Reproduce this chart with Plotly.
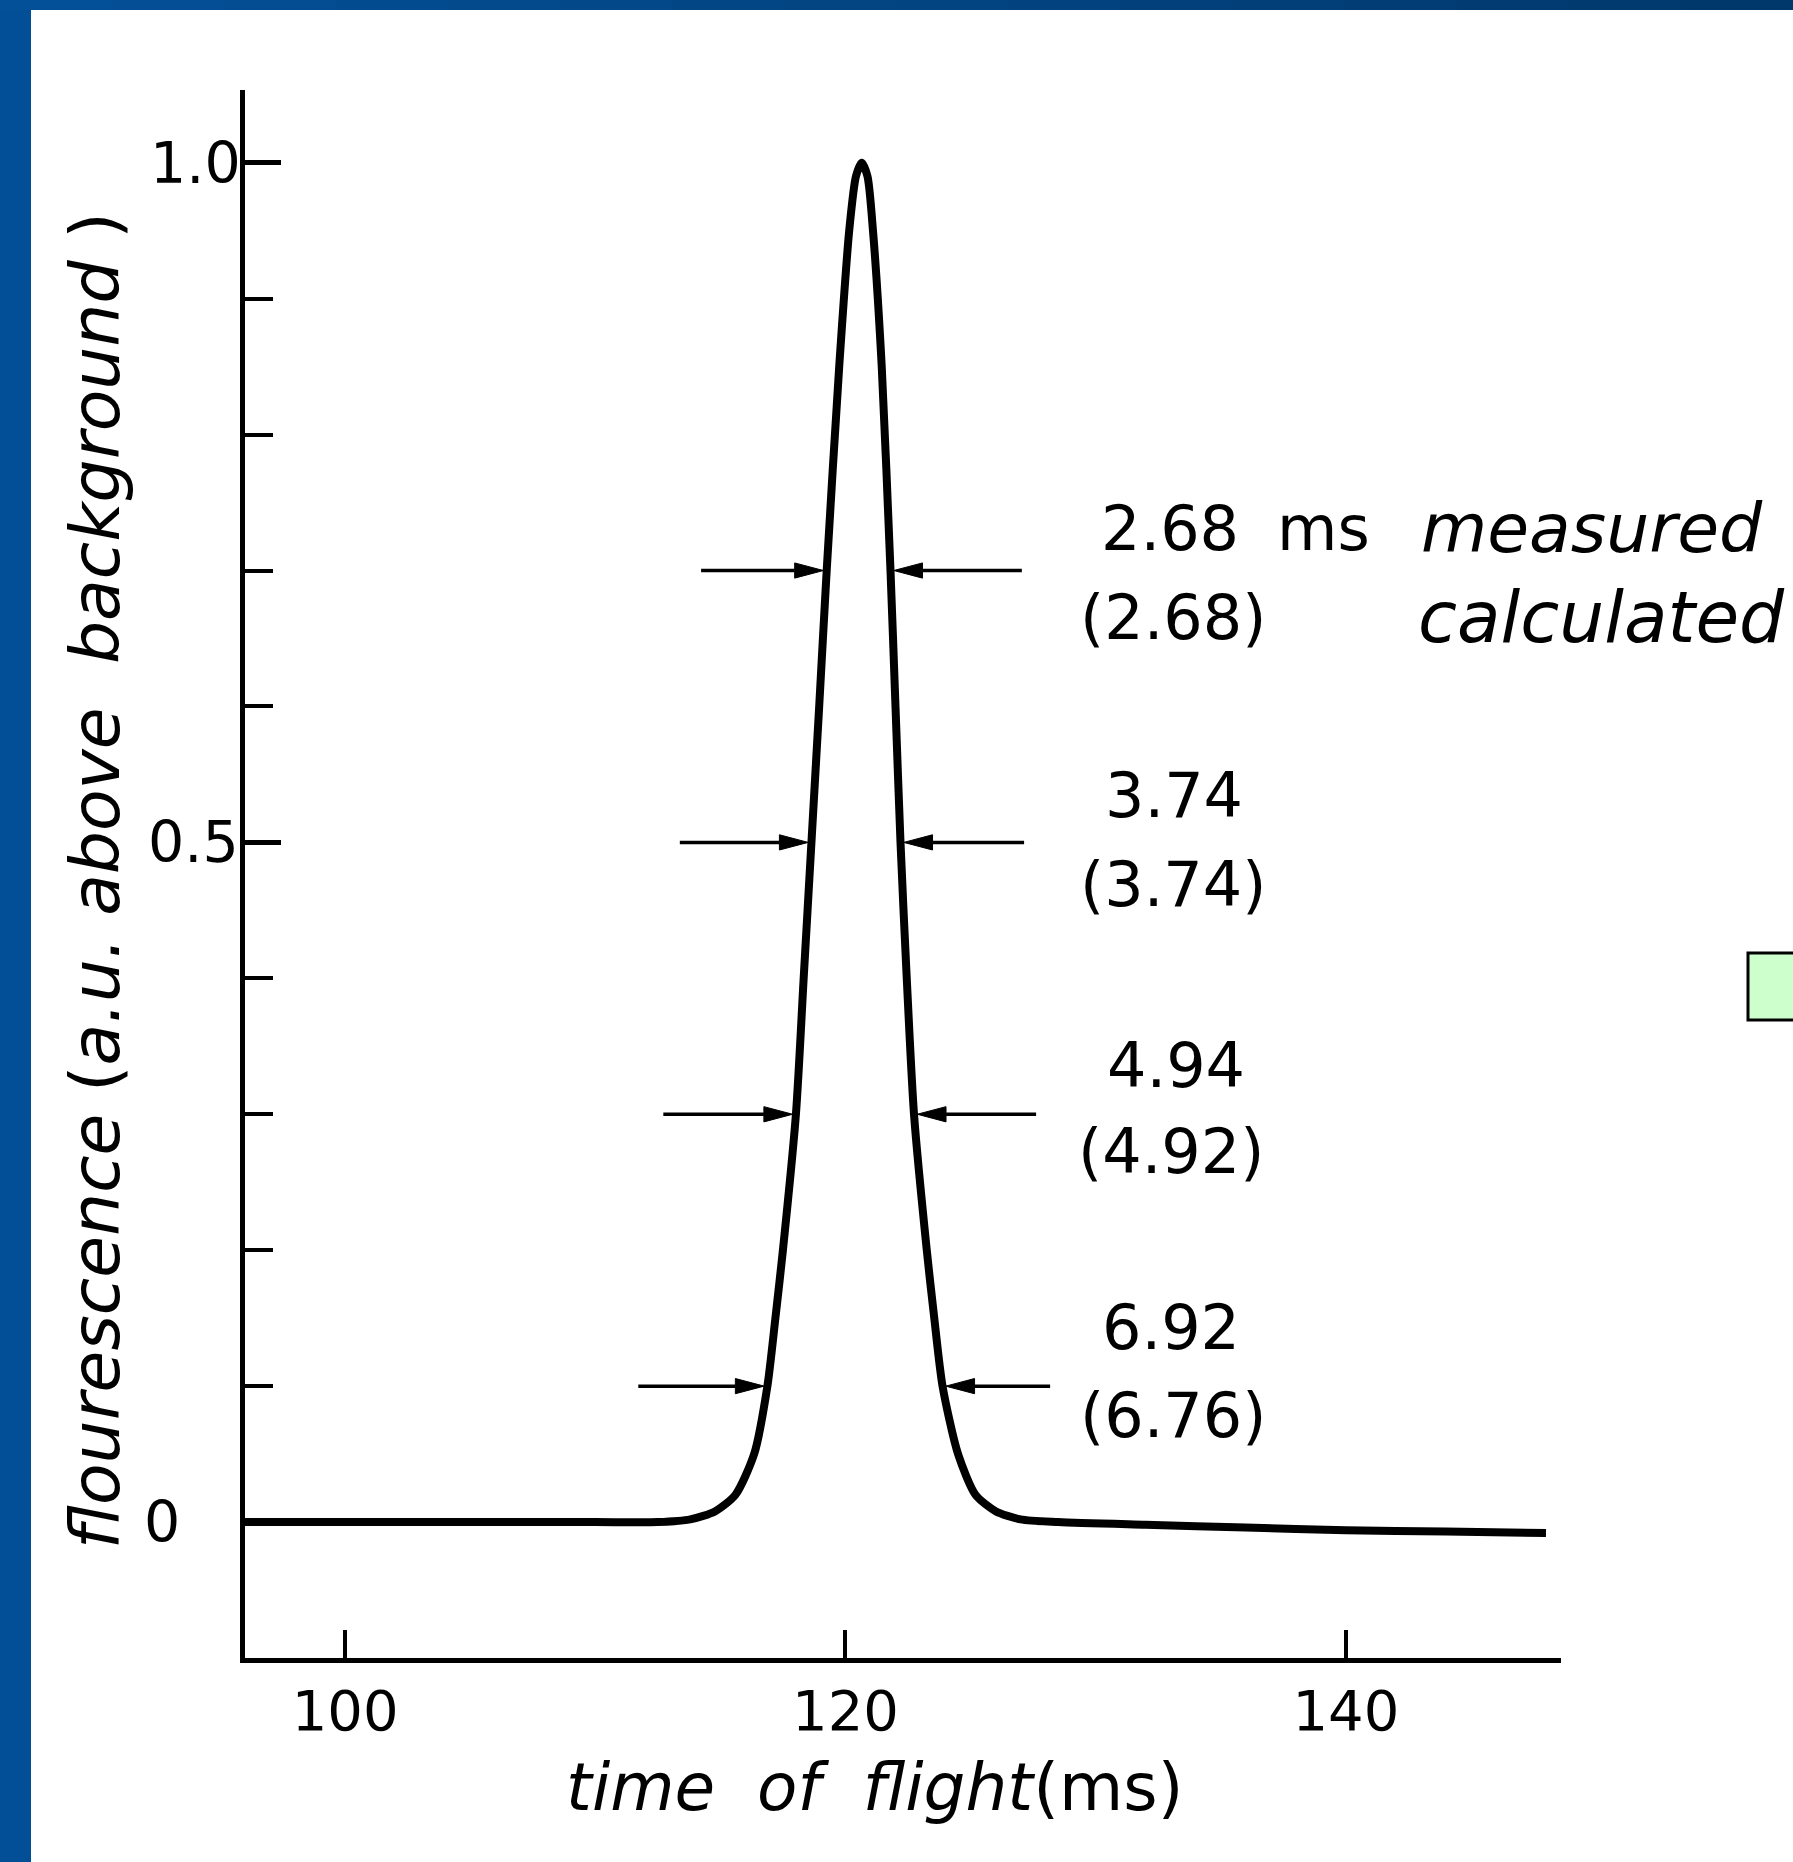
import plotly.graph_objects as go

# ---------------- data ----------------
time_ms = [96.0, 100.0, 105.0, 110.0, 112.5, 113.8, 114.8, 115.6, 116.35, 116.88,
           117.2, 117.5, 118.02, 118.33, 118.64, 118.95, 119.25, 119.75, 120.15, 120.42,
           120.65, 120.88, 121.1, 121.45, 121.8, 122.0, 122.2, 122.45, 122.74, 123.25,
           123.55, 123.88, 124.5, 125.2, 126.0, 127.0, 128.5, 132.0, 136.0, 140.0,
           144.0, 148.0]
fluor = [0.0, 0.0, 0.0, 0.0, 0.0, 0.002, 0.008, 0.02, 0.05, 0.1,
         0.15, 0.2, 0.3, 0.4, 0.5, 0.6, 0.7, 0.85, 0.95, 0.99,
         1.0, 0.99, 0.95, 0.85, 0.7, 0.6, 0.5, 0.4, 0.3, 0.2,
         0.15, 0.1, 0.05, 0.02, 0.008, 0.002, 0.0, -0.002, -0.004, -0.006,
         -0.007, -0.008]

levels = [0.7, 0.5, 0.3, 0.1]
measured = ["2.68", "3.74", "4.94", "6.92"]
calculated = ["(2.68)", "(3.74)", "(4.92)", "(6.76)"]
tip_left = [119.12, 118.51, 117.89, 116.75]
tip_right = [121.93, 122.33, 122.87, 124.01]
tail_left = [114.23, 113.38, 112.72, 111.72]
tail_right = [127.05, 127.14, 127.62, 128.18]

x_tickvals = [100, 120, 140]
x_ticktext = ["100", "120", "140"]
y_tickvals = [0, 0.5, 1.0]
y_ticktext = ["0", "0.5", "1.0"]

# ---------------- layout helpers ----------------
W, H = 1793, 1862
FONT = "DejaVu Sans"
HEAD_LEN = 1.15     # arrow-head length, ms
HEAD_HALF = 0.0056  # arrow-head half height, a.u.

def px(x):
    return x / W

def py(y):
    return 1 - y / H

fig = go.Figure()
fig.add_trace(go.Scatter(
    x=time_ms, y=fluor, mode="lines",
    line=dict(color="black", width=8, shape="spline", smoothing=0.7),
    hoverinfo="skip", showlegend=False,
))

# arrows (shaft + filled head) drawn through the data axes
for lv, tl, tr, al, ar in zip(levels, tip_left, tip_right, tail_left, tail_right):
    for tip, tail in ((tl, al), (tr, ar)):
        d = 1 if tip > tail else -1
        base = tip - d * HEAD_LEN
        fig.add_trace(go.Scatter(x=[tail, base], y=[lv, lv], mode="lines",
                                 line=dict(color="black", width=3.5),
                                 hoverinfo="skip", showlegend=False))
        fig.add_trace(go.Scatter(x=[base, tip, base, base],
                                 y=[lv + HEAD_HALF, lv, lv - HEAD_HALF, lv + HEAD_HALF],
                                 mode="lines", fill="toself", fillcolor="black",
                                 line=dict(color="black", width=1),
                                 hoverinfo="skip", showlegend=False))

annotations = []
meas_y = [0.731, 0.5344, 0.3361, 0.1431]
calc_y = [0.6655, 0.4689, 0.2723, 0.0784]
meas_x = [132.97, 133.15, 133.2, 133.0]
calc_x = [133.1, 133.1, 133.0, 133.1]
NUM_SIZE = 62
WORD_SIZE = 68
for i in range(len(levels)):
    annotations.append(dict(x=meas_x[i], y=meas_y[i], xref="x", yref="y",
                            text=measured[i], showarrow=False, xanchor="center", yanchor="middle",
                            font=dict(family=FONT, size=NUM_SIZE, color="black")))
    annotations.append(dict(x=calc_x[i], y=calc_y[i], xref="x", yref="y",
                            text=calculated[i], showarrow=False, xanchor="center", yanchor="middle",
                            font=dict(family=FONT, size=NUM_SIZE, color="black")))

annotations.append(dict(x=139.12, y=meas_y[0], xref="x", yref="y", text="ms", showarrow=False,
                        xanchor="center", yanchor="middle",
                        font=dict(family=FONT, size=NUM_SIZE, color="black")))
annotations.append(dict(x=142.94, y=meas_y[0], xref="x", yref="y", text="<i>measured</i>",
                        showarrow=False, xanchor="left", yanchor="middle",
                        font=dict(family=FONT, size=WORD_SIZE, color="black")))
annotations.append(dict(x=142.79, y=calc_y[0], xref="x", yref="y", text="<i>calculated</i>",
                        showarrow=False, xanchor="left", yanchor="middle",
                        font=dict(family=FONT, size=71, color="black")))

# y tick labels (left-aligned, as in the original)
ytick_left = [142, 146, 148]
for v, t, xl in zip(y_tickvals, y_ticktext, ytick_left):
    annotations.append(dict(x=px(xl), y=v, xref="paper", yref="y", text=t, showarrow=False,
                            xanchor="left", yanchor="middle",
                            font=dict(family=FONT, size=57, color="black")))

# axis titles
annotations.append(dict(x=px(874), y=py(1787), xref="paper", yref="paper",
                        text="<i>time  of  flight</i>(ms)", showarrow=False,
                        xanchor="center", yanchor="middle",
                        font=dict(family=FONT, size=66, color="black")))
annotations.append(dict(x=px(95), y=py(881), xref="paper", yref="paper",
                        text="<i>flourescence</i> (<i>a.u. above  background</i> )",
                        textangle=-90, showarrow=False, xanchor="center", yanchor="middle",
                        font=dict(family=FONT, size=68, color="black")))

# slide frame (blue border) and green box
shapes = []
shapes.append(dict(type="rect", xref="paper", yref="paper", x0=0, x1=px(31), y0=0, y1=1,
                   fillcolor="#034f97", line=dict(width=0), layer="above"))
n = 16
c0 = (4, 80, 152)
c1 = (1, 56, 108)
for k in range(n):
    t = k / (n - 1)
    col = "rgb(%d,%d,%d)" % tuple(round(a + (b - a) * t) for a, b in zip(c0, c1))
    shapes.append(dict(type="rect", xref="paper", yref="paper",
                       x0=k / n, x1=(k + 1) / n + 0.001, y0=py(10), y1=1,
                       fillcolor=col, line=dict(width=0), layer="above"))
shapes.append(dict(type="rect", xref="paper", yref="paper",
                   x0=px(1748), x1=px(1800), y0=py(1020), y1=py(953),
                   fillcolor="#ccffcc", line=dict(color="black", width=3), layer="above"))

fig.update_layout(
    width=W, height=H, autosize=False,
    margin=dict(l=0, r=0, t=0, b=0),
    paper_bgcolor="white", plot_bgcolor="white",
    showlegend=False,
    annotations=annotations, shapes=shapes,
    xaxis=dict(
        domain=[px(245), px(1561)], range=[96, 148.6],
        showline=True, linecolor="black", linewidth=5, mirror=False,
        ticks="inside", ticklen=28, tickwidth=4, tickcolor="black",
        tickvals=x_tickvals, ticktext=x_ticktext,
        tickfont=dict(family=FONT, size=56, color="black"),
        showgrid=False, zeroline=False, fixedrange=True,
    ),
    yaxis=dict(
        domain=[py(1658), py(90)], range=[-0.1, 1.0535],
        showline=True, linecolor="black", linewidth=5, mirror=False,
        ticks="inside", ticklen=36, tickwidth=5, tickcolor="black",
        tickvals=y_tickvals, showticklabels=False,
        minor=dict(ticks="inside", tick0=0, dtick=0.1, ticklen=28, tickwidth=4, tickcolor="black"),
        showgrid=False, zeroline=False, fixedrange=True,
    ),
)

fig.write_html("out.html", config={"displayModeBar": False},
               post_script="document.body.style.margin='0';")
